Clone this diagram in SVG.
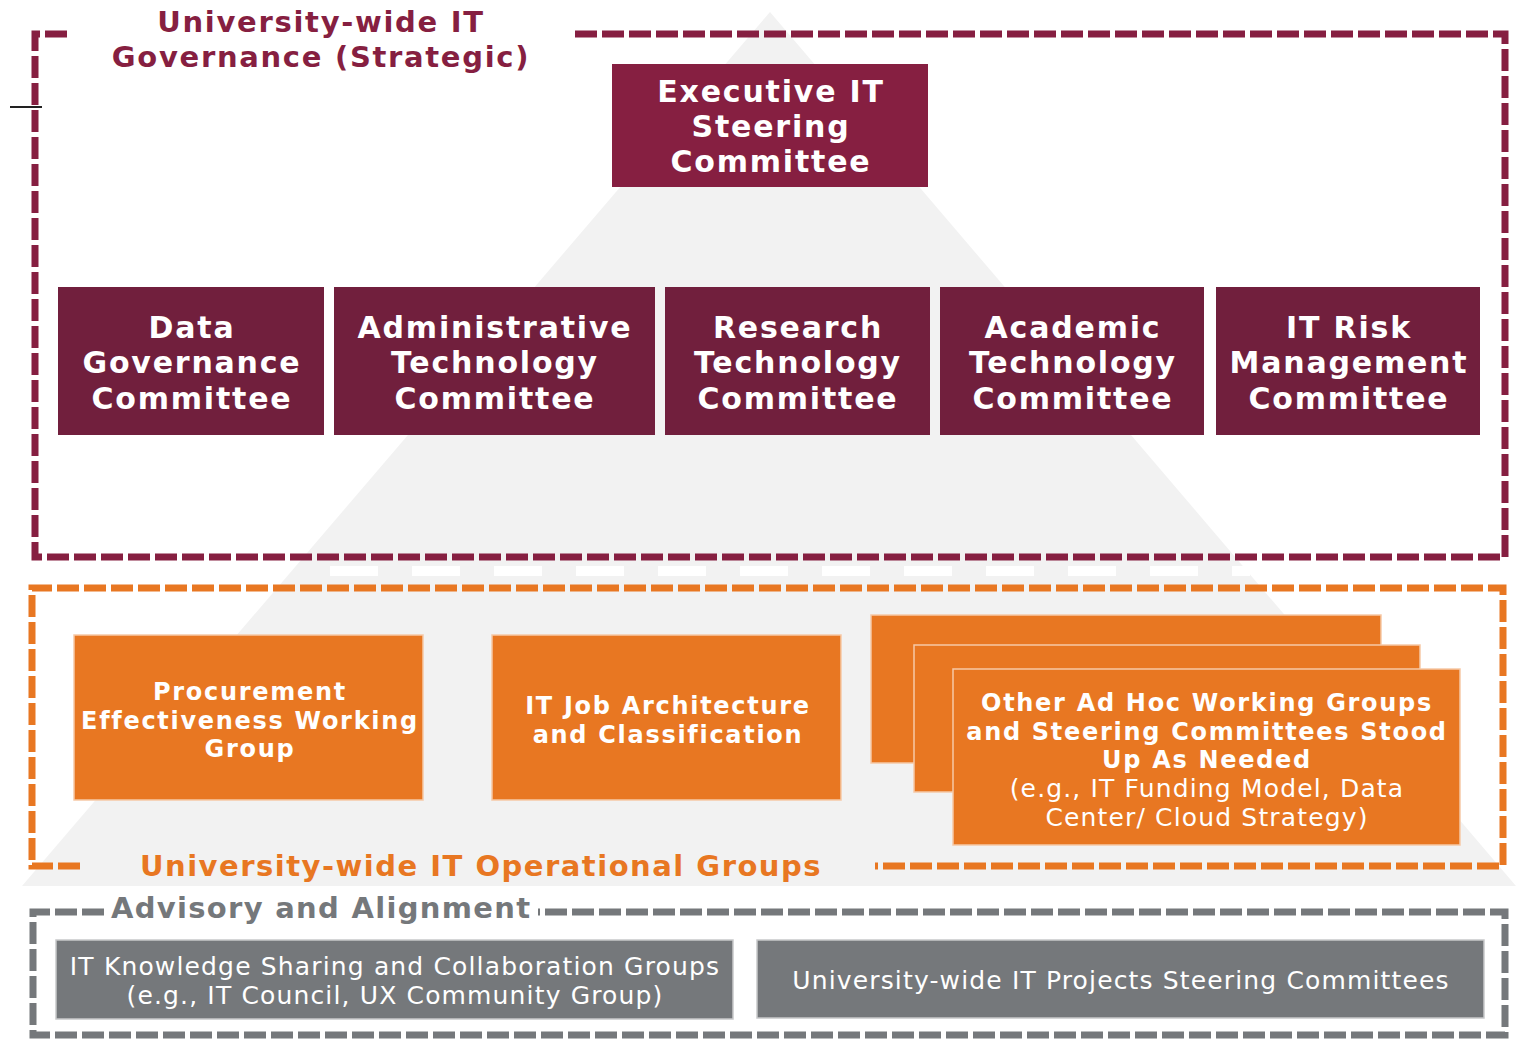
<svg xmlns="http://www.w3.org/2000/svg" width="1516" height="1039" viewBox="0 0 1516 1039">
<style>
.bx{font-family:"DejaVu Sans","Verdana",sans-serif;font-weight:bold;fill:#ffffff;text-anchor:middle}
.bt{font-size:30px;letter-spacing:1.8px}
.ot{font-size:24px;letter-spacing:1.7px}
.rg{font-family:"DejaVu Sans","Verdana",sans-serif;font-weight:normal;fill:#ffffff;text-anchor:middle;font-size:25px;letter-spacing:1.15px}
.hd{font-family:"DejaVu Sans","Verdana",sans-serif;font-weight:bold;font-size:29px}
.dash{fill:none;stroke-width:7;stroke-dasharray:22 5}
</style>
<rect width="1516" height="1039" fill="#ffffff"/>
<polygon points="770,12 22,886 1516,886" fill="#f2f2f2"/>
<line x1="330" y1="571" x2="1250" y2="571" stroke="#ffffff" stroke-width="10" stroke-dasharray="48 34"/>
<line x1="10" y1="107" x2="42" y2="107" stroke="#222222" stroke-width="2"/>

<g id="connectors"></g>

<g id="strategic-frame">
<path class="dash" stroke="#861f41" d="M575 34 H1505 V557 H35 V34 H68"/>
<text class="hd" fill="#861f41" text-anchor="middle" x="321" y="32" letter-spacing="1.7">University-wide IT</text>
<text class="hd" fill="#861f41" text-anchor="middle" x="321" y="67" letter-spacing="1.7">Governance (Strategic)</text>
</g>

<g id="exec">
<rect x="612" y="64" width="316" height="123" fill="#861f41"/>
<text class="bx bt" x="771" y="102">Executive IT</text>
<text class="bx bt" x="771" y="137">Steering</text>
<text class="bx bt" x="771" y="172">Committee</text>
</g>

<g id="data-gov">
<rect x="58" y="287" width="266" height="148" fill="#711f3d"/>
<text class="bx bt" x="192" y="338">Data</text>
<text class="bx bt" x="192" y="373">Governance</text>
<text class="bx bt" x="192" y="409">Committee</text>
</g>
<g id="admin-tech">
<rect x="334" y="287" width="321" height="148" fill="#711f3d"/>
<text class="bx bt" x="495" y="338">Administrative</text>
<text class="bx bt" x="495" y="373">Technology</text>
<text class="bx bt" x="495" y="409">Committee</text>
</g>
<g id="research-tech">
<rect x="665" y="287" width="265" height="148" fill="#711f3d"/>
<text class="bx bt" x="798" y="338">Research</text>
<text class="bx bt" x="798" y="373">Technology</text>
<text class="bx bt" x="798" y="409">Committee</text>
</g>
<g id="academic-tech">
<rect x="940" y="287" width="264" height="148" fill="#711f3d"/>
<text class="bx bt" x="1073" y="338">Academic</text>
<text class="bx bt" x="1073" y="373">Technology</text>
<text class="bx bt" x="1073" y="409">Committee</text>
</g>
<g id="it-risk">
<rect x="1216" y="287" width="264" height="148" fill="#711f3d"/>
<text class="bx bt" x="1349" y="338">IT Risk</text>
<text class="bx bt" x="1349" y="373">Management</text>
<text class="bx bt" x="1349" y="409">Committee</text>
</g>

<g id="operational-frame">
<path class="dash" stroke="#e87722" d="M80 866 H32 V588 H1503 V866 H875"/>
<text class="hd" fill="#e87722" text-anchor="middle" x="481" y="876" letter-spacing="1.5">University-wide IT Operational Groups</text>
</g>

<g id="procurement">
<rect x="74" y="635" width="349" height="165" fill="#e87722" stroke="#f6c9a6" stroke-width="1.5"/>
<text class="bx ot" x="250" y="700">Procurement</text>
<text class="bx ot" x="250" y="729">Effectiveness Working</text>
<text class="bx ot" x="250" y="757">Group</text>
</g>
<g id="it-job">
<rect x="492" y="635" width="349" height="165" fill="#e87722" stroke="#f6c9a6" stroke-width="1.5"/>
<text class="bx ot" x="668" y="714">IT Job Architecture</text>
<text class="bx ot" x="668" y="743">and Classification</text>
</g>
<g id="ad-hoc">
<rect x="871" y="615" width="510" height="148" fill="#e87722" stroke="#f6c9a6" stroke-width="1.5"/>
<rect x="914" y="645" width="506" height="147" fill="#e87722" stroke="#f6c9a6" stroke-width="1.5"/>
<rect x="953" y="669" width="507" height="176" fill="#e87722" stroke="#f6c9a6" stroke-width="1.5"/>
<text class="bx ot" x="1207" y="711">Other Ad Hoc Working Groups</text>
<text class="bx ot" x="1207" y="740">and Steering Committees Stood</text>
<text class="bx ot" x="1207" y="768">Up As Needed</text>
<text class="rg" x="1207" y="797">(e.g., IT Funding Model, Data</text>
<text class="rg" x="1207" y="826">Center/ Cloud Strategy)</text>
</g>

<g id="advisory-frame">
<path class="dash" stroke="#75787b" d="M104 912 H33 V1035 H1505 V912 H538"/>
<text class="hd" fill="#75787b" x="111" y="918" letter-spacing="1.3">Advisory and Alignment</text>
</g>

<g id="knowledge">
<rect x="56" y="940" width="677" height="79" fill="#75787b" stroke="#c8c9ca" stroke-width="1.5"/>
<text class="rg" x="395" y="975">IT Knowledge Sharing and Collaboration Groups</text>
<text class="rg" x="395" y="1004">(e.g., IT Council, UX Community Group)</text>
</g>
<g id="projects">
<rect x="757" y="940" width="727" height="78" fill="#75787b" stroke="#c8c9ca" stroke-width="1.5"/>
<text class="rg" x="1121" y="989">University-wide IT Projects Steering Committees</text>
</g>
</svg>
